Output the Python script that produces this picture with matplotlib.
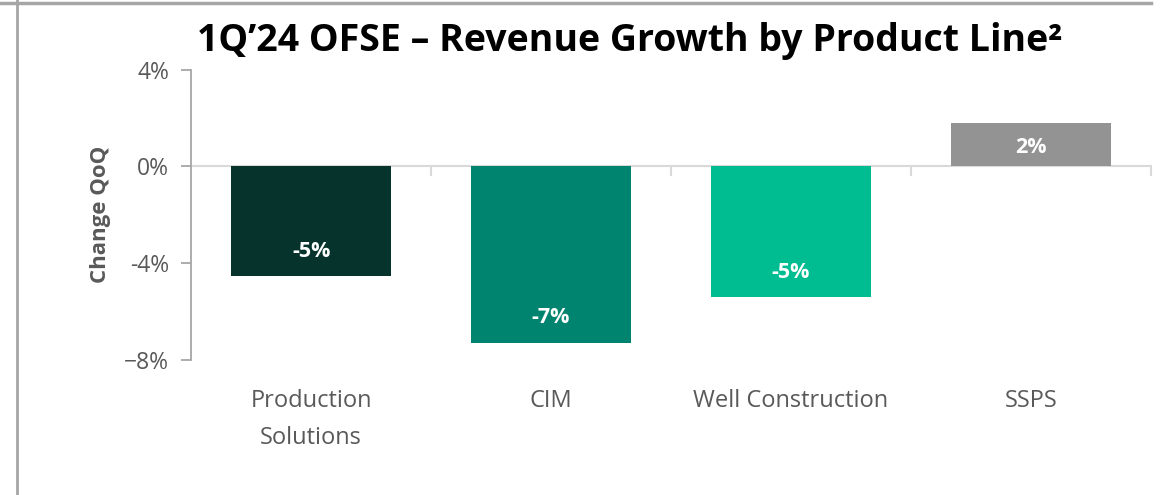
import matplotlib
matplotlib.use('Agg')
import matplotlib.pyplot as plt
from matplotlib.lines import Line2D

# data
categories = ["Production\nSolutions", "CIM", "Well Construction", "SSPS"]
changes = [-4.55, -7.3, -5.4, 1.8]
bar_labels = ["-5%", "-7%", "-5%", "2%"]
bar_colors = ["#06332c", "#008470", "#00bd91", "#939393"]
yticks = [4, 0, -4, -8]
ytick_labels = ["4%", "0%", "-4%", "\u22128%"]

plt.rcParams['font.family'] = ['Open Sans', 'DejaVu Sans']

fig = plt.figure(figsize=(11.73, 4.95), dpi=100)
ax = fig.add_axes([0.163, 0.273, 0.818, 0.586])

x = range(len(categories))
bars = ax.bar(x, changes, width=2 / 3, color=bar_colors, zorder=2)

for rect, lab, val in zip(bars, bar_labels, changes):
    # label sits just inside the end of each bar
    off = -18 if val > 0 else 18
    ax.annotate(lab, (rect.get_x() + rect.get_width() / 2, val),
                xytext=(0, off), textcoords='offset points',
                ha='center', va='center', color='white',
                fontsize=15.5, fontweight='bold', zorder=4)

ax.set_xlim(-0.5, 3.5)
ax.set_ylim(-8, 4)
ax.set_yticks(yticks)
ax.set_yticklabels(ytick_labels)
ax.set_xticks(list(x))
ax.set_xticklabels(categories, linespacing=1.7)

for s in ['top', 'right', 'bottom']:
    ax.spines[s].set_visible(False)
ax.spines['left'].set_color('#a6a6a6')
ax.spines['left'].set_linewidth(1.3)

ax.tick_params(axis='y', colors='#a6a6a6', labelcolor='#595959',
               labelsize=16.5, length=7, width=1.3, pad=9)
ax.tick_params(axis='x', length=0, labelcolor='#595959', labelsize=17, pad=21)

# zero line with category separator ticks
ax.axhline(0, color='#d9d9d9', lw=1.5, zorder=1)
for b in [0.5, 1.5, 2.5, 3.5]:
    ax.plot([b, b], [0, -0.35], color='#d9d9d9', lw=1.5, zorder=1, clip_on=False)

ax.set_ylabel("Change QoQ", fontsize=16, fontweight='bold', color='#595959', labelpad=9)

fig.text(0.537, 0.918, "1Q\u201924 OFSE \u2013 Revenue Growth by Product Line\u00b2",
         ha='center', va='center', fontsize=27, fontweight='bold', color='black')

# slide frame lines
fig.add_artist(Line2D([0.0145, 0.0145], [0, 1], transform=fig.transFigure, color='#a6a6a6', lw=2))
fig.add_artist(Line2D([0, 0.981], [0.994, 0.994], transform=fig.transFigure, color='#a6a6a6', lw=2.5))

fig.savefig("out.png", dpi=100)
